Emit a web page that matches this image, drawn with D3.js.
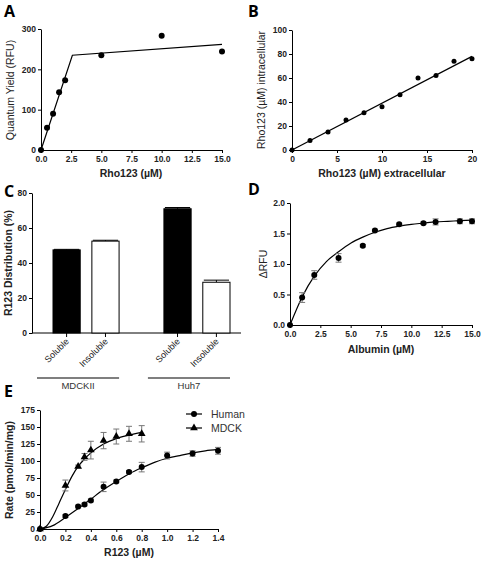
<!DOCTYPE html>
<html><head><meta charset="utf-8">
<script src="https://cdn.jsdelivr.net/npm/d3@7"></script>
<style>
body{margin:0;background:#fff;}
svg{display:block;font-family:"Liberation Sans",Arial,sans-serif;}
.tick text{font-size:8.5px;font-weight:bold;fill:#222;}
.domain,.tick line{stroke:#000;stroke-width:1;}
</style></head>
<body>
<svg id="c" width="484" height="562"></svg>
<script>
// Panel A
const aX = [0, 0.5, 1, 1.5, 2, 5, 10, 15];
const aY = [0, 55, 90, 143, 173, 235, 283, 244];
const aFitX = [0, 2.6, 15];
const aFitY = [0, 235, 262];
const aXTicks = [0, 2.5, 5, 7.5, 10, 12.5, 15];
const aYTicks = [0, 100, 200, 300];
// Panel B
const bX = [0, 2, 4, 6, 8, 10, 12, 14, 16, 18, 20];
const bY = [0, 8, 15, 25, 31, 36, 46, 60, 62, 74, 76];
const bFitX = [0, 20];
const bFitY = [0, 78];
const bXTicks = [0, 5, 10, 15, 20];
const bYTicks = [0, 20, 40, 60, 80, 100];
// Panel C
const cGroups = ["MDCKII", "Huh7"];
const cFractions = ["Soluble", "Insoluble"];
const cValues = [[47.5, 52.5], [71, 29]];
const cErrors = [[0.3, 0.5], [0.7, 1.2]];
const cYTicks = [0, 20, 40, 60, 80];
// Panel D
const dX = [0, 1, 2, 4, 6, 7, 9, 11, 12, 14, 15];
const dY = [0, 0.45, 0.82, 1.1, 1.3, 1.55, 1.65, 1.67, 1.69, 1.7, 1.7];
const dErr = [0, 0.08, 0.07, 0.07, 0.02, 0.02, 0.02, 0.02, 0.05, 0.04, 0.04];
const dFitX = [0, 1, 2, 3, 4, 5, 6, 7, 8, 9, 10, 11, 12, 13, 14, 15];
const dFitY = [0, 0.46, 0.8, 1.04, 1.2, 1.34, 1.44, 1.52, 1.58, 1.62, 1.65, 1.67, 1.69, 1.7, 1.71, 1.72];
const dXTicks = [0, 2.5, 5, 7.5, 10, 12.5, 15];
const dYTicks = [0, 0.5, 1, 1.5, 2];
// Panel E
const eHumanX = [0, 0.2, 0.3, 0.35, 0.4, 0.5, 0.6, 0.7, 0.8, 1.0, 1.2, 1.4];
const eHumanY = [0, 19, 33, 36, 42, 62, 70, 84, 91, 108, 111, 115];
const eHumanErr = [0, 2, 2, 2, 2, 7, 2, 2, 7, 5, 4, 5];
const eMdckX = [0, 0.2, 0.3, 0.35, 0.4, 0.5, 0.6, 0.7, 0.8];
const eMdckY = [0, 64, 92, 106, 116, 130, 136, 140, 140];
const eMdckErr = [0, 8, 2, 5, 13, 12, 11, 11, 12];
const eHumanFitX = [0, 0.1, 0.2, 0.3, 0.4, 0.5, 0.6, 0.7, 0.8, 0.9, 1.0, 1.1, 1.2, 1.3, 1.4];
const eHumanFitY = [0, 5, 17, 30, 44, 58, 70, 81, 90, 98, 104, 108, 112, 115, 117];
const eMdckFitX = [0, 0.05, 0.1, 0.15, 0.2, 0.25, 0.3, 0.35, 0.4, 0.5, 0.6, 0.7, 0.8];
const eMdckFitY = [0, 4, 18, 38, 58, 77, 92, 103, 112, 125, 133, 138, 142];
const eXTicks = [0, 0.2, 0.4, 0.6, 0.8, 1.0, 1.2, 1.4];
const eYTicks = [0, 25, 50, 75, 100, 125, 150, 175];
const eSeries = ["Human", "MDCK"];

const svg = d3.select("#c");
const f1 = d3.format(".1f");

function letter(t, x, y) {
  svg.append("text").attr("x", x).attr("y", y).text(t)
    .style("font-family", "'Open Sans','Liberation Sans',sans-serif")
    .style("font-size", "16px").style("font-weight", "bold").attr("fill", "#000");
}
function ytitle(t, x, y, bold) {
  svg.append("text").attr("transform", `translate(${x},${y}) rotate(-90)`)
    .attr("text-anchor", "middle").text(t)
    .style("font-size", "10.5px").style("font-weight", bold ? "bold" : "normal").attr("fill", "#222");
}
function xtitle(t, x, y) {
  svg.append("text").attr("x", x).attr("y", y).attr("text-anchor", "middle").text(t)
    .style("font-size", "10.5px").style("font-weight", "bold").attr("fill", "#222");
}
function axes(x, y, xt, yt, xf, yf) {
  const [x0] = x.range(); const [y0] = y.range();
  svg.append("g").attr("transform", `translate(0,${y0})`)
    .call(d3.axisBottom(x).tickValues(xt).tickFormat(xf).tickSize(3).tickPadding(3).tickSizeOuter(0));
  svg.append("g").attr("transform", `translate(${x0},0)`)
    .call(d3.axisLeft(y).tickValues(yt).tickFormat(yf).tickSize(3).tickPadding(2).tickSizeOuter(0));
}
function dots(x, y, xs, ys, r) {
  svg.append("g").selectAll("circle").data(xs).join("circle")
    .attr("cx", (d) => x(d)).attr("cy", (d, i) => y(ys[i])).attr("r", r || 3).attr("fill", "#000");
}
function fitLine(x, y, xs, ys, curve) {
  const l = d3.line().x((d) => x(d[0])).y((d) => y(d[1])).curve(curve || d3.curveLinear);
  svg.append("path").datum(xs.map((v, i) => [v, ys[i]])).attr("d", l)
    .attr("fill", "none").attr("stroke", "#000").attr("stroke-width", 1.2);
}
function errBars(x, y, xs, ys, es, cap) {
  const g = svg.append("g").attr("stroke", "#777").attr("stroke-width", 1);
  xs.forEach((v, i) => {
    if (!es[i]) return;
    const cx = x(v), t = y(ys[i] + es[i]), b = y(ys[i] - es[i]);
    g.append("line").attr("x1", cx).attr("x2", cx).attr("y1", t).attr("y2", b);
    g.append("line").attr("x1", cx - cap).attr("x2", cx + cap).attr("y1", t).attr("y2", t);
    g.append("line").attr("x1", cx - cap).attr("x2", cx + cap).attr("y1", b).attr("y2", b);
  });
}

// ---- A ----
{
  const x = d3.scaleLinear().domain([0, 15]).range([41, 222]);
  const y = d3.scaleLinear().domain([0, 300]).range([150, 29]);
  axes(x, y, aXTicks, aYTicks, f1, d3.format("d"));
  fitLine(x, y, aFitX, aFitY);
  dots(x, y, aX, aY, 3);
  letter("A", 4, 17);
  ytitle("Quantum Yield (RFU)", 14, 90, false);
  xtitle("Rho123 (\u00b5M)", 131, 177);
}
// ---- B ----
{
  const x = d3.scaleLinear().domain([0, 20]).range([292, 472]);
  const y = d3.scaleLinear().domain([0, 100]).range([150, 30]);
  axes(x, y, bXTicks, bYTicks, d3.format("d"), d3.format("d"));
  fitLine(x, y, bFitX, bFitY);
  dots(x, y, bX, bY, 2.5);
  letter("B", 248, 17);
  ytitle("Rho123 (\u00b5M) intracellular", 265, 90, false);
  xtitle("Rho123 (\u00b5M) extracellular", 382, 177);
}
// ---- C ----
{
  const gx = d3.scaleBand().domain(cGroups).range([37, 230]).paddingInner(0.26);
  const ix = d3.scaleBand().domain(cFractions).range([16, gx.bandwidth()]).paddingInner(0.3);
  const y = d3.scaleLinear().domain([0, 80]).range([333, 193]);
  const y0 = y(0);
  svg.append("g").attr("transform", "translate(32,0)")
    .call(d3.axisLeft(y).tickValues(cYTicks).tickSize(3).tickPadding(2).tickSizeOuter(0));
  svg.append("line").attr("x1", 32).attr("x2", 241).attr("y1", y0).attr("y2", y0).attr("stroke", "#000");
  cGroups.forEach((g, gi) => {
    cFractions.forEach((f, fi) => {
      const bx = gx(g) + ix(f), bw = ix.bandwidth(), cx = bx + bw / 2;
      const v = cValues[gi][fi], e = cErrors[gi][fi];
      svg.append("line").attr("x1", cx).attr("x2", cx).attr("y1", y(v)).attr("y2", y(v + e)).attr("stroke", "#000");
      svg.append("line").attr("x1", cx - bw / 2 + 1).attr("x2", cx + bw / 2 - 1).attr("y1", y(v + e)).attr("y2", y(v + e)).attr("stroke", "#000");
      svg.append("rect").attr("x", bx).attr("y", y(v)).attr("width", bw).attr("height", y0 - y(v))
        .attr("fill", fi === 0 ? "#000" : "#fff").attr("stroke", "#000").attr("stroke-width", 1);
      svg.append("line").attr("x1", cx).attr("x2", cx).attr("y1", y0).attr("y2", y0 + 4).attr("stroke", "#000");
      svg.append("text").attr("transform", `translate(${cx + 3},${y0 + 9}) rotate(-45)`)
        .attr("text-anchor", "end").text(f).style("font-size", "9px").attr("fill", "#222");
    });
    const lx0 = gx(g), lx1 = gx(g) + gx.bandwidth();
    svg.append("line").attr("x1", lx0).attr("x2", lx1).attr("y1", 378).attr("y2", 378).attr("stroke", "#555").attr("stroke-width", 1.4);
    svg.append("text").attr("x", (lx0 + lx1) / 2).attr("y", 389).attr("text-anchor", "middle").text(g)
      .style("font-size", "9.5px").attr("fill", "#333");
  });
  letter("C", 4, 197);
  ytitle("R123 Distribution (%)", 12, 263, true);
}
// ---- D ----
{
  const x = d3.scaleLinear().domain([0, 15]).range([290, 472]);
  const y = d3.scaleLinear().domain([0, 2]).range([325, 203]);
  axes(x, y, dXTicks, dYTicks, f1, f1);
  fitLine(x, y, dFitX, dFitY, d3.curveMonotoneX);
  errBars(x, y, dX, dY, dErr, 3);
  dots(x, y, dX, dY, 3);
  letter("D", 248, 195);
  ytitle("\u0394RFU", 267, 264, false);
  xtitle("Albumin (\u00b5M)", 381, 353);
}
// ---- E ----
{
  const x = d3.scaleLinear().domain([0, 1.4]).range([40, 218]);
  const y = d3.scaleLinear().domain([0, 175]).range([529, 410]);
  axes(x, y, eXTicks, eYTicks, f1, d3.format("d"));
  fitLine(x, y, eHumanFitX, eHumanFitY, d3.curveMonotoneX);
  fitLine(x, y, eMdckFitX, eMdckFitY, d3.curveMonotoneX);
  errBars(x, y, eHumanX, eHumanY, eHumanErr, 3);
  errBars(x, y, eMdckX, eMdckY, eMdckErr, 3);
  dots(x, y, eHumanX, eHumanY, 3);
  const tri = d3.symbol().type(d3.symbolTriangle).size(26);
  svg.append("g").selectAll("path").data(eMdckX).join("path")
    .attr("transform", (d, i) => `translate(${x(d)},${y(eMdckY[i])})`).attr("d", tri).attr("fill", "#000");
  eSeries.forEach((s, i) => {
    const ly = 414 + i * 14;
    svg.append("line").attr("x1", 186).attr("x2", 202).attr("y1", ly).attr("y2", ly).attr("stroke", "#000").attr("stroke-width", 1.2);
    if (i === 0) svg.append("circle").attr("cx", 194).attr("cy", ly).attr("r", 3).attr("fill", "#000");
    else svg.append("path").attr("transform", `translate(194,${ly})`).attr("d", tri).attr("fill", "#000");
    svg.append("text").attr("x", 211).attr("y", ly + 3.5).text(s).style("font-size", "10.5px").attr("fill", "#333");
  });
  letter("E", 4, 397);
  ytitle("Rate (pmol/min/mg)", 13, 470, true);
  xtitle("R123 (\u00b5M)", 129, 556);
}
</script>
</body></html>
